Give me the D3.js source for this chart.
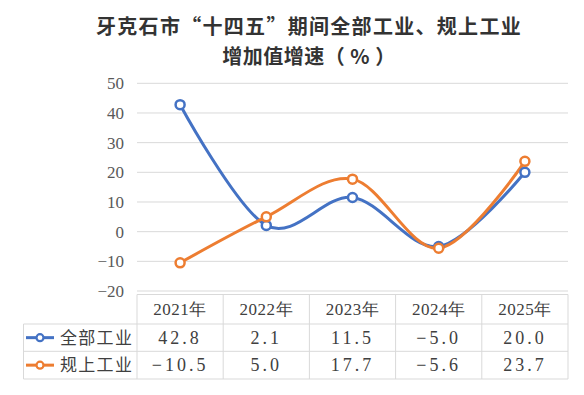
<!DOCTYPE html>
<html>
<head>
<meta charset="utf-8">
<script src="https://cdn.jsdelivr.net/npm/d3@7/dist/d3.min.js"></script>
<style>
  html, body { margin: 0; padding: 0; background: #fff; }
  svg { display: block; }
</style>
</head>
<body>
<svg id="chart" width="584" height="395"></svg>
<script>
const categories = ["2021年", "2022年", "2023年", "2024年", "2025年"];
const seriesNames = ["全部工业", "规上工业"];
const allIndustry = [42.8, 2.1, 11.5, -5.0, 20.0];
const aboveScale = [-10.5, 5.0, 17.7, -5.6, 23.7];
const yTicks = [50, 40, 30, 20, 10, 0, -10, -20];
const titleLines = ["牙克石市“十四五”期间全部工业、规上工业", "增加值增速（ % ）"];
const colors = ["#4472C4", "#ED7D31"];

const series = [allIndustry, aboveScale];
const svg = d3.select("#chart");
const LAT = "'Liberation Serif', serif";
const CJK = "'Noto Sans CJK SC', sans-serif";

const plotLeft = 137, plotRight = 568;
const x = d3.scaleBand().domain(categories).range([plotLeft, plotRight]).padding(0);
const y = d3.scaleLinear().domain([-20, 50]).range([291, 83.3]);

// Title
svg.append("g").selectAll("text").data(titleLines).join("text")
  .style("font-family", CJK)
  .attr("x", 309).attr("y", (d, i) => 34 + i * 29.5)
  .attr("text-anchor", "middle")
  .attr("font-weight", "bold")
  .attr("font-size", 20)
  .attr("letter-spacing", (d, i) => i === 0 ? 1.3 : 0.5)
  .attr("fill", "#333")
  .text(d => d);

// Gridlines
svg.append("g").selectAll("line").data(yTicks).join("line")
  .attr("x1", plotLeft).attr("x2", plotRight)
  .attr("y1", d => y(d)).attr("y2", d => y(d))
  .attr("stroke", "#d9d9d9").attr("stroke-width", 1);

// Y axis labels
const yAxis = d3.axisLeft(y).tickValues(yTicks).tickSize(0).tickPadding(0)
  .tickFormat(d => d < 0 ? "\u2212" + Math.abs(d) : d);
const ya = svg.append("g").attr("transform", "translate(124,0)").call(yAxis);
ya.select(".domain").remove();
ya.selectAll("text").style("font-family", LAT).style("font-size", "17px").attr("fill", "#595959");

// Lines
const line = d3.line()
  .x((d, i) => x(categories[i]) + x.bandwidth() / 2)
  .y(d => y(d))
  .curve(d3.curveCardinal.tension(0));

series.forEach((s, k) => {
  svg.append("path").datum(s)
    .attr("d", line).attr("fill", "none")
    .attr("stroke", colors[k]).attr("stroke-width", 3)
    .attr("stroke-linecap", "round");
});
series.forEach((s, k) => {
  svg.append("g").selectAll("circle").data(s).join("circle")
    .attr("cx", (d, i) => x(categories[i]) + x.bandwidth() / 2)
    .attr("cy", d => y(d))
    .attr("r", 4.5)
    .attr("fill", "#fff")
    .attr("stroke", colors[k]).attr("stroke-width", 2.5);
});

// Data table
const tTop = 294.5, rowH = [29.5, 27.3, 27.7];
const rowY = [tTop, tTop + rowH[0], tTop + rowH[0] + rowH[1], tTop + rowH[0] + rowH[1] + rowH[2]];
const tableLeft = 23.5;
const tg = svg.append("g").attr("stroke", "#d9d9d9").attr("stroke-width", 1).attr("fill", "none");
tg.append("line").attr("x1", plotLeft).attr("x2", plotRight).attr("y1", rowY[0]).attr("y2", rowY[0]);
[1, 2, 3].forEach(r => tg.append("line").attr("x1", tableLeft).attr("x2", plotRight).attr("y1", rowY[r]).attr("y2", rowY[r]));
const colEdges = categories.map(c => x(c)).concat([plotRight]);
colEdges.forEach(cx => tg.append("line").attr("x1", cx).attr("x2", cx).attr("y1", rowY[0]).attr("y2", rowY[3]));
tg.append("line").attr("x1", tableLeft).attr("x2", tableLeft).attr("y1", rowY[1]).attr("y2", rowY[3]);

// header
svg.append("g").selectAll("text").data(categories).join("text")
  .style("font-family", LAT)
  .attr("x", d => x(d) + x.bandwidth() / 2)
  .attr("y", (rowY[0] + rowY[1]) / 2)
  .attr("dy", "0.35em")
  .attr("text-anchor", "middle")
  .attr("font-size", 17)
  .attr("letter-spacing", 0.5)
  .attr("fill", "#404040")
  .text(d => d);

const fmt = v => (v < 0 ? "\u2212" : "") + Math.abs(v).toFixed(1);
series.forEach((s, k) => {
  const cy = (rowY[k + 1] + rowY[k + 2]) / 2;
  svg.append("g").selectAll("text").data(s).join("text")
    .style("font-family", LAT)
    .attr("x", (d, i) => x(categories[i]) + x.bandwidth() / 2)
    .attr("y", cy).attr("dy", "0.35em")
    .attr("text-anchor", "middle")
    .attr("font-size", 18)
    .attr("letter-spacing", 3)
    .attr("fill", "#404040")
    .text(d => fmt(d));
  svg.append("line").attr("x1", 26).attr("x2", 54).attr("y1", cy).attr("y2", cy)
    .attr("stroke", colors[k]).attr("stroke-width", 3);
  svg.append("circle").attr("cx", 40).attr("cy", cy).attr("r", 3.5)
    .attr("fill", "#fff").attr("stroke", colors[k]).attr("stroke-width", 2.2);
  svg.append("text").style("font-family", CJK).attr("x", 60).attr("y", cy).attr("dy", "0.35em")
    .attr("font-size", 17)
    .attr("letter-spacing", 1.3)
    .attr("fill", "#404040")
    .text(seriesNames[k]);
});
</script>
</body>
</html>
